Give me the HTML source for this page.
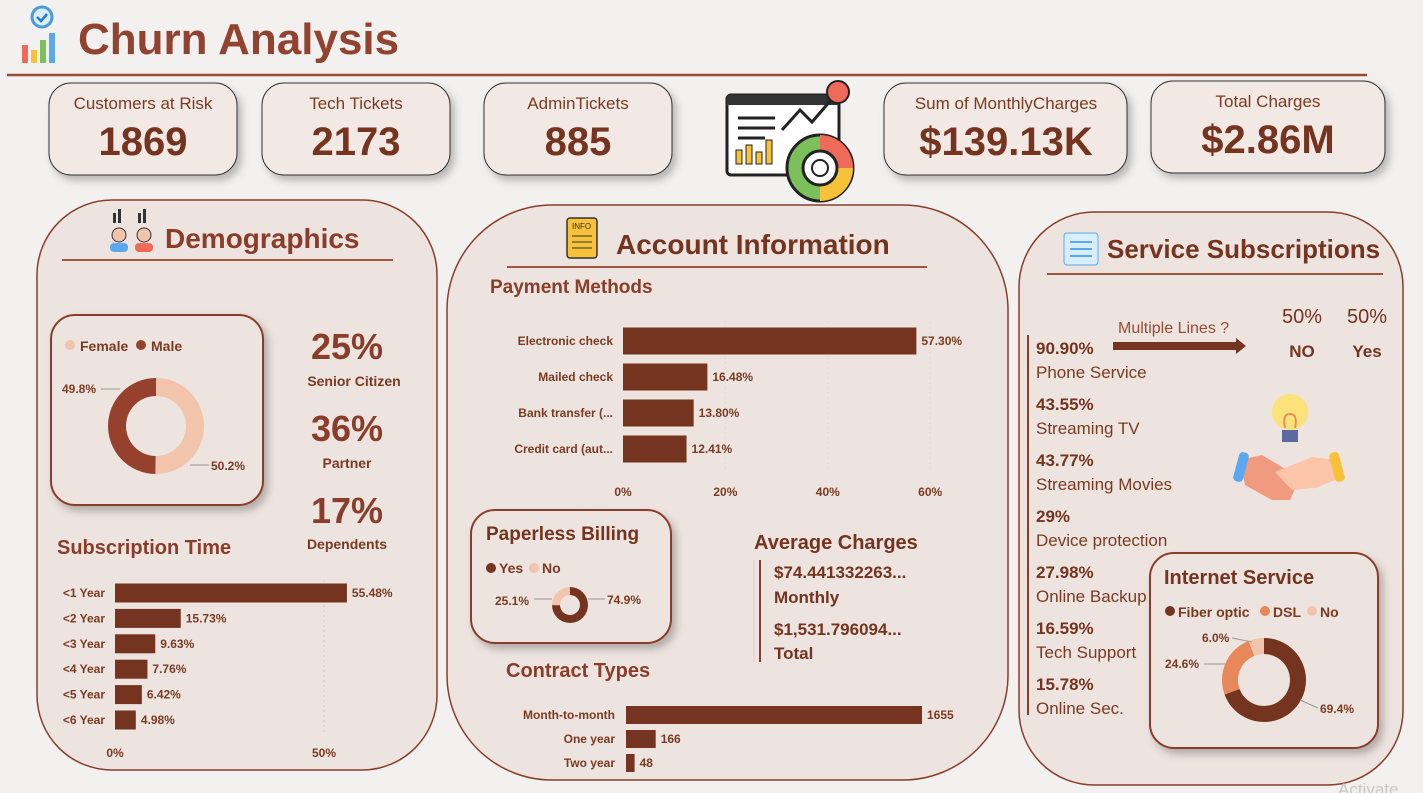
<!DOCTYPE html>
<html><head><meta charset="utf-8"><style>
html,body{margin:0;padding:0;background:#f3f1ef;width:1423px;height:793px;overflow:hidden}
svg{display:block;font-family:"Liberation Sans",sans-serif}
</style></head><body>
<svg id="s" width="1423" height="793" viewBox="0 0 1423 793" xmlns="http://www.w3.org/2000/svg">
<defs><filter id="sh" x="-10%" y="-10%" width="130%" height="140%"><feDropShadow dx="4" dy="5" stdDeviation="4" flood-color="#000" flood-opacity="0.25"/></filter></defs>
<!-- header -->
<g>
<rect x="22" y="45" width="6" height="18" fill="#f06a5a"/><rect x="31" y="50" width="6" height="13" fill="#f7c23a"/><rect x="40" y="40" width="6" height="23" fill="#7bc05a"/><rect x="49" y="33" width="6" height="30" fill="#5aa8f0"/>
<circle cx="42" cy="17" r="10" fill="#d9eefc" stroke="#4a9ae0" stroke-width="3"/><path d="M37 17l4 4 6-7" stroke="#2a7ad0" stroke-width="2.5" fill="none"/>
</g>
<text x="78" y="54" font-size="44" font-weight="bold" fill="#91432f">Churn Analysis</text>
<line x1="7" y1="75" x2="1367" y2="75" stroke="#9a4a35" stroke-width="2.5"/>
<!-- KPI cards -->
<g><rect x="49" y="83" width="188" height="92" rx="22" fill="#f2e8e4" stroke="#333" stroke-width="1" filter="url(#sh)"/><text x="143" y="109" font-size="17" fill="#7a3b22" text-anchor="middle">Customers at Risk</text><text x="143" y="155" font-size="40" font-weight="bold" fill="#74341f" text-anchor="middle">1869</text></g>
<g><rect x="262" y="83" width="188" height="92" rx="22" fill="#f2e8e4" stroke="#333" stroke-width="1" filter="url(#sh)"/><text x="356" y="109" font-size="17" fill="#7a3b22" text-anchor="middle">Tech Tickets</text><text x="356" y="155" font-size="40" font-weight="bold" fill="#74341f" text-anchor="middle">2173</text></g>
<g><rect x="484" y="83" width="188" height="92" rx="22" fill="#f2e8e4" stroke="#333" stroke-width="1" filter="url(#sh)"/><text x="578" y="109" font-size="17" fill="#7a3b22" text-anchor="middle">AdminTickets</text><text x="578" y="155" font-size="40" font-weight="bold" fill="#74341f" text-anchor="middle">885</text></g>
<g><rect x="884" y="83" width="243" height="92" rx="22" fill="#f2e8e4" stroke="#333" stroke-width="1" filter="url(#sh)"/><text x="1006" y="109" font-size="17" fill="#7a3b22" text-anchor="middle">Sum of MonthlyCharges</text><text x="1006" y="155" font-size="40" font-weight="bold" fill="#74341f" text-anchor="middle">$139.13K</text></g>
<g><rect x="1151" y="81" width="234" height="92" rx="22" fill="#f2e8e4" stroke="#333" stroke-width="1" filter="url(#sh)"/><text x="1268" y="107" font-size="17" fill="#7a3b22" text-anchor="middle">Total Charges</text><text x="1268" y="153" font-size="40" font-weight="bold" fill="#74341f" text-anchor="middle">$2.86M</text></g>
<!-- center icon -->
<g>
<rect x="727" y="95" width="112" height="80" rx="4" fill="#fff" stroke="#222" stroke-width="3"/>
<rect x="727" y="95" width="112" height="10" fill="#333"/>
<line x1="738" y1="118" x2="775" y2="118" stroke="#222" stroke-width="3"/><line x1="738" y1="128" x2="775" y2="128" stroke="#222" stroke-width="3"/><line x1="738" y1="138" x2="765" y2="138" stroke="#222" stroke-width="3"/>
<rect x="736" y="150" width="6" height="14" fill="#f7c23a" stroke="#222"/><rect x="746" y="145" width="6" height="19" fill="#f7c23a" stroke="#222"/><rect x="756" y="152" width="6" height="12" fill="#f7c23a" stroke="#222"/><rect x="766" y="140" width="6" height="24" fill="#f7c23a" stroke="#222"/>
<polyline points="782,130 800,110 812,122 838,92" fill="none" stroke="#222" stroke-width="3"/>
<circle cx="838" cy="92" r="11" fill="#f06a5a" stroke="#222" stroke-width="2"/>
<circle cx="820" cy="168" r="33" fill="#7bc05a" stroke="#222" stroke-width="3"/>
<path d="M820 135 A33 33 0 0 1 853 168 L820 168Z" fill="#f06a5a"/>
<path d="M853 168 A33 33 0 0 1 820 201 L820 168Z" fill="#f7c23a"/>
<circle cx="820" cy="168" r="17" fill="#fff" stroke="#222" stroke-width="3"/><circle cx="820" cy="168" r="8" fill="#fff" stroke="#222" stroke-width="2"/>
</g>
<!-- panels -->
<rect x="37" y="200" width="400" height="570" rx="75" fill="#ede3df" stroke="#8a3d2a" stroke-width="1.5"/>
<rect x="447" y="205" width="561" height="575" rx="105" fill="#ede3df" stroke="#8a3d2a" stroke-width="1.5"/>
<rect x="1019" y="212" width="384" height="573" rx="75" fill="#ede3df" stroke="#8a3d2a" stroke-width="1.5"/>
<!-- demographics -->
<g><circle cx="119" cy="235" r="7" fill="#f2c4ac" stroke="#333"/><rect x="110" y="243" width="18" height="9" rx="4" fill="#5aa8f0"/><circle cx="144" cy="235" r="7" fill="#f2c4ac" stroke="#333"/><rect x="135" y="243" width="18" height="9" rx="4" fill="#f06a5a"/><rect x="113" y="213" width="3" height="10" fill="#333"/><rect x="118" y="209" width="3" height="14" fill="#333"/><rect x="138" y="213" width="3" height="10" fill="#333"/><rect x="143" y="209" width="3" height="14" fill="#333"/></g>
<text x="165" y="248" font-size="28" font-weight="bold" fill="#8a3d2a">Demographics</text>
<line x1="62" y1="260" x2="393" y2="260" stroke="#a0553f" stroke-width="2"/>
<rect x="51" y="315" width="212" height="190" rx="24" fill="#ede3df" stroke="#8a3d2a" stroke-width="2" filter="url(#sh)"/>
<g><circle cx="70" cy="345" r="5" fill="#f2c4ac"/><text x="80" y="351" font-size="14" font-weight="bold" fill="#7a3b22">Female</text><circle cx="141" cy="345" r="5" fill="#95412d"/><text x="151" y="351" font-size="14" font-weight="bold" fill="#7a3b22">Male</text></g>
<g id="gender"></g>
<text x="62" y="393" font-size="12" font-weight="bold" fill="#7a3b22">49.8%</text>
<line x1="101" y1="389" x2="120" y2="389" stroke="#999"/>
<line x1="190" y1="465" x2="209" y2="465" stroke="#999"/>
<text x="211" y="470" font-size="12" font-weight="bold" fill="#7a3b22">50.2%</text>
<g font-weight="bold" fill="#8a3d2a" text-anchor="middle">
<text x="347" y="359" font-size="36">25%</text><text x="354" y="386" font-size="14" fill="#7a3b22">Senior Citizen</text>
<text x="347" y="441" font-size="36">36%</text><text x="347" y="468" font-size="14" fill="#7a3b22">Partner</text>
<text x="347" y="523" font-size="36">17%</text><text x="347" y="549" font-size="14" fill="#7a3b22">Dependents</text>
</g>
<text x="57" y="554" font-size="20" font-weight="bold" fill="#8a3d2a">Subscription Time</text>
<g id="subs"></g>
<!-- account -->
<g><rect x="567" y="218" width="30" height="40" rx="3" fill="#f7c23a" stroke="#333" stroke-width="1.5"/><text x="572" y="229" font-size="8" fill="#333">INFO</text><line x1="572" y1="236" x2="592" y2="236" stroke="#333"/><line x1="572" y1="242" x2="592" y2="242" stroke="#333"/><line x1="572" y1="248" x2="592" y2="248" stroke="#333"/></g>
<text x="616" y="254" font-size="28" font-weight="bold" fill="#74341f">Account Information</text>
<line x1="507" y1="267" x2="927" y2="267" stroke="#a0553f" stroke-width="2"/>
<text x="490" y="293" font-size="19" font-weight="bold" fill="#8a3d2a">Payment Methods</text>
<g id="pay"></g>
<rect x="471" y="510" width="200" height="133" rx="24" fill="#ede3df" stroke="#8a3d2a" stroke-width="2" filter="url(#sh)"/>
<text x="486" y="540" font-size="19" font-weight="bold" fill="#74341f">Paperless Billing</text>
<g><circle cx="491" cy="568" r="5" fill="#74341f"/><text x="499" y="573" font-size="14" font-weight="bold" fill="#7a3b22">Yes</text><circle cx="534" cy="568" r="5" fill="#f2c4ac"/><text x="542" y="573" font-size="14" font-weight="bold" fill="#7a3b22">No</text></g>
<g id="paper"></g>
<text x="495" y="605" font-size="12" font-weight="bold" fill="#7a3b22">25.1%</text>
<line x1="534" y1="599" x2="552" y2="599" stroke="#999"/>
<line x1="588" y1="599" x2="605" y2="599" stroke="#999"/>
<text x="607" y="604" font-size="12" font-weight="bold" fill="#7a3b22">74.9%</text>
<text x="754" y="549" font-size="20" font-weight="bold" fill="#74341f">Average Charges</text>
<line x1="754" y1="560" x2="754" y2="662" stroke="#e6d8d2" stroke-width="2"/>
<line x1="760" y1="560" x2="760" y2="662" stroke="#8a3d2a" stroke-width="2"/>
<g font-size="17" font-weight="bold" fill="#74341f">
<text x="774" y="578">$74.441332263...</text><text x="774" y="603">Monthly</text>
<text x="774" y="635">$1,531.796094...</text><text x="774" y="659">Total</text>
</g>
<text x="506" y="677" font-size="20" font-weight="bold" fill="#8a3d2a">Contract Types</text>
<g id="contract"></g>
<!-- service -->
<g><rect x="1064" y="233" width="34" height="32" rx="3" fill="#d9eefc" stroke="#5aa8f0"/><line x1="1070" y1="242" x2="1092" y2="242" stroke="#5aa8f0" stroke-width="2"/><line x1="1070" y1="249" x2="1092" y2="249" stroke="#5aa8f0" stroke-width="2"/><line x1="1070" y1="256" x2="1092" y2="256" stroke="#5aa8f0" stroke-width="2"/></g>
<text x="1107" y="258" font-size="26" font-weight="bold" fill="#74341f">Service Subscriptions</text>
<line x1="1047" y1="274" x2="1383" y2="274" stroke="#a0553f" stroke-width="2"/>
<line x1="1028" y1="335" x2="1028" y2="715" stroke="#8a3d2a" stroke-width="2"/>
<g id="svc"></g>
<text x="1118" y="333" font-size="16" fill="#9a4a35">Multiple Lines ?</text>
<path d="M1113 342 H1236 V338 L1246 346 L1236 354 V350 H1113Z" fill="#74341f"/>
<g font-size="20" fill="#74341f" text-anchor="middle"><text x="1302" y="323">50%</text><text x="1367" y="323">50%</text>
<text x="1302" y="357" font-size="17" font-weight="bold">NO</text><text x="1367" y="357" font-size="17" font-weight="bold">Yes</text></g>
<g>
<circle cx="1290" cy="412" r="18" fill="#fbe27a"/><rect x="1282" y="430" width="16" height="12" fill="#5a6aa0"/>
<path d="M1285 428 q-3 -14 5 -14 q8 0 5 14" stroke="#f08a5a" stroke-width="2" fill="none"/>
<path d="M1240 460 L1262 455 L1300 478 L1290 500 L1272 500 L1245 485Z" fill="#f09a80"/>
<path d="M1338 460 L1312 457 L1275 472 L1292 490 L1315 488 L1340 478Z" fill="#fcc4a8"/>
<rect x="1236" y="452" width="10" height="30" rx="4" fill="#5aa8f0" transform="rotate(15 1241 467)"/>
<rect x="1332" y="452" width="10" height="30" rx="4" fill="#f7c23a" transform="rotate(-15 1337 467)"/>
</g>
<rect x="1150" y="553" width="228" height="195" rx="24" fill="#ede3df" stroke="#8a3d2a" stroke-width="2" filter="url(#sh)"/>
<text x="1164" y="584" font-size="20" font-weight="bold" fill="#74341f">Internet Service</text>
<g><circle cx="1170" cy="611" r="5" fill="#74341f"/><text x="1178" y="617" font-size="14" font-weight="bold" fill="#7a3b22">Fiber optic</text><circle cx="1265" cy="611" r="5" fill="#e8875a"/><text x="1273" y="617" font-size="14" font-weight="bold" fill="#7a3b22">DSL</text><circle cx="1312" cy="611" r="5" fill="#f2c4ac"/><text x="1320" y="617" font-size="14" font-weight="bold" fill="#7a3b22">No</text></g>
<g id="inet"></g>
<text x="1202" y="642" font-size="12" font-weight="bold" fill="#7a3b22">6.0%</text>
<line x1="1232" y1="638" x2="1252" y2="642" stroke="#999"/>
<text x="1165" y="668" font-size="12" font-weight="bold" fill="#7a3b22">24.6%</text>
<line x1="1204" y1="664" x2="1225" y2="664" stroke="#999"/>
<line x1="1300" y1="700" x2="1318" y2="708" stroke="#999"/>
<text x="1320" y="713" font-size="12" font-weight="bold" fill="#7a3b22">69.4%</text>
<text x="1338" y="795" font-size="17" fill="#c8c8c8">Activate</text>
</svg>
<script>
var NS="http://www.w3.org/2000/svg";
var genderLabels=["Female","Male"];
var genderValues=[50.2,49.8];
var subsCats=["<1 Year","<2 Year","<3 Year","<4 Year","<5 Year","<6 Year"];
var subsValues=[55.48,15.73,9.63,7.76,6.42,4.98];
var subsTicks=[0,50];
var payCats=["Electronic check","Mailed check","Bank transfer (...","Credit card (aut..."];
var payValues=[57.30,16.48,13.80,12.41];
var payTicks=[0,20,40,60];
var paperLabels=["Yes","No"];
var paperValues=[74.9,25.1];
var contractCats=["Month-to-month","One year","Two year"];
var contractValues=[1655,166,48];
var svcNames=["Phone Service","Streaming TV","Streaming Movies","Device protection","Online Backup","Tech Support","Online Sec."];
var svcValues=["90.90%","43.55%","43.77%","29%","27.98%","16.59%","15.78%"];
var inetLabels=["Fiber optic","DSL","No"];
var inetValues=[69.4,24.6,6.0];

function mk(tag,attrs,parent){var e=document.createElementNS(NS,tag);for(var k in attrs)e.setAttribute(k,attrs[k]);parent.appendChild(e);return e;}
function txt(parent,x,y,s,size,w,anchor,fill){var t=mk("text",{x:x,y:y,"font-size":size,"font-weight":w,"text-anchor":anchor,fill:fill||"#7a3b22"},parent);t.textContent=s;return t;}
function donut(id,vals,labels,colors,cx,cy,ro,ri){
  var g=document.getElementById(id),tot=vals.reduce(function(a,b){return a+b},0),a0=0;
  vals.forEach(function(v,i){
    var a1=a0+v/tot*2*Math.PI;
    function p(r,a){return [cx+r*Math.sin(a),cy-r*Math.cos(a)];}
    var A=p(ro,a0),B=p(ro,a1),C=p(ri,a1),D=p(ri,a0),L=(a1-a0)>Math.PI?1:0;
    var el=mk("path",{d:"M"+A+"A"+ro+" "+ro+" 0 "+L+" 1 "+B+"L"+C+"A"+ri+" "+ri+" 0 "+L+" 0 "+D+"Z",fill:colors[i]},g);
    
    
    a0=a1;
  });
}
function hbar(id,cats,vals,x0,pxPerUnit,yc,step,h,labelX,fmt,lsize){
  var g=document.getElementById(id);
  cats.forEach(function(c,i){
    var y=yc+i*step,w=vals[i]*pxPerUnit;
    var r=mk("rect",{x:x0,y:y-h/2,width:Math.max(w,1),height:h,fill:"#74341f"},g);
    
    
    var l=txt(g,labelX,y+4,c,lsize,"bold","end");
    
    
    var v=txt(g,x0+w+5,y+4,fmt(vals[i]),lsize,"bold","start");
    
    
  });
}
donut("gender",genderValues,genderLabels,["#f2c4ac","#95412d"],156,426,48,30);
donut("paper",paperValues,paperLabels,["#74341f","#f2c4ac"],570,605,18,10);
donut("inet",inetValues,inetLabels,["#74341f","#e8875a","#f2c4ac"],1264,680,42,26);

// subscription time
(function(){var g=document.getElementById("subs"),x0=115,k=4.18;
 subsTicks.forEach(function(t){if(t>0){var l=mk("line",{x1:x0+t*k,y1:580,x2:x0+t*k,y2:735,stroke:"#ccc","stroke-dasharray":"2,3"},g);}
  var tt=txt(g,x0+t*k,757,t+"%",12,"bold","middle");});
 hbar("subs",subsCats,subsValues,x0,k,593,25.4,19,105,function(v){return v.toFixed(2)+"%"},12);
})();
// payment
(function(){var g=document.getElementById("pay"),x0=623,k=5.12;
 payTicks.forEach(function(t){if(t>0){var l=mk("line",{x1:x0+t*k,y1:322,x2:x0+t*k,y2:470,stroke:"#ddd","stroke-dasharray":"2,3"},g);}
  var tt=txt(g,x0+t*k,496,t+"%",12,"bold","middle");});
 hbar("pay",payCats,payValues,x0,k,341,36,27,613,function(v){return v.toFixed(2)+"%"},12);
})();
// contract
hbar("contract",contractCats,contractValues,626,296/1655,715,24,18,615,function(v){return String(v)},12);
// services
(function(){var g=document.getElementById("svc");
 svcNames.forEach(function(n,i){var y=354+i*56;
  var v=txt(g,1036,y,svcValues[i],17,"bold","start","#74341f");
  var l=txt(g,1036,y+24,n,17,"normal","start","#7a3b22");
 });
})();
</script>
</body></html>
